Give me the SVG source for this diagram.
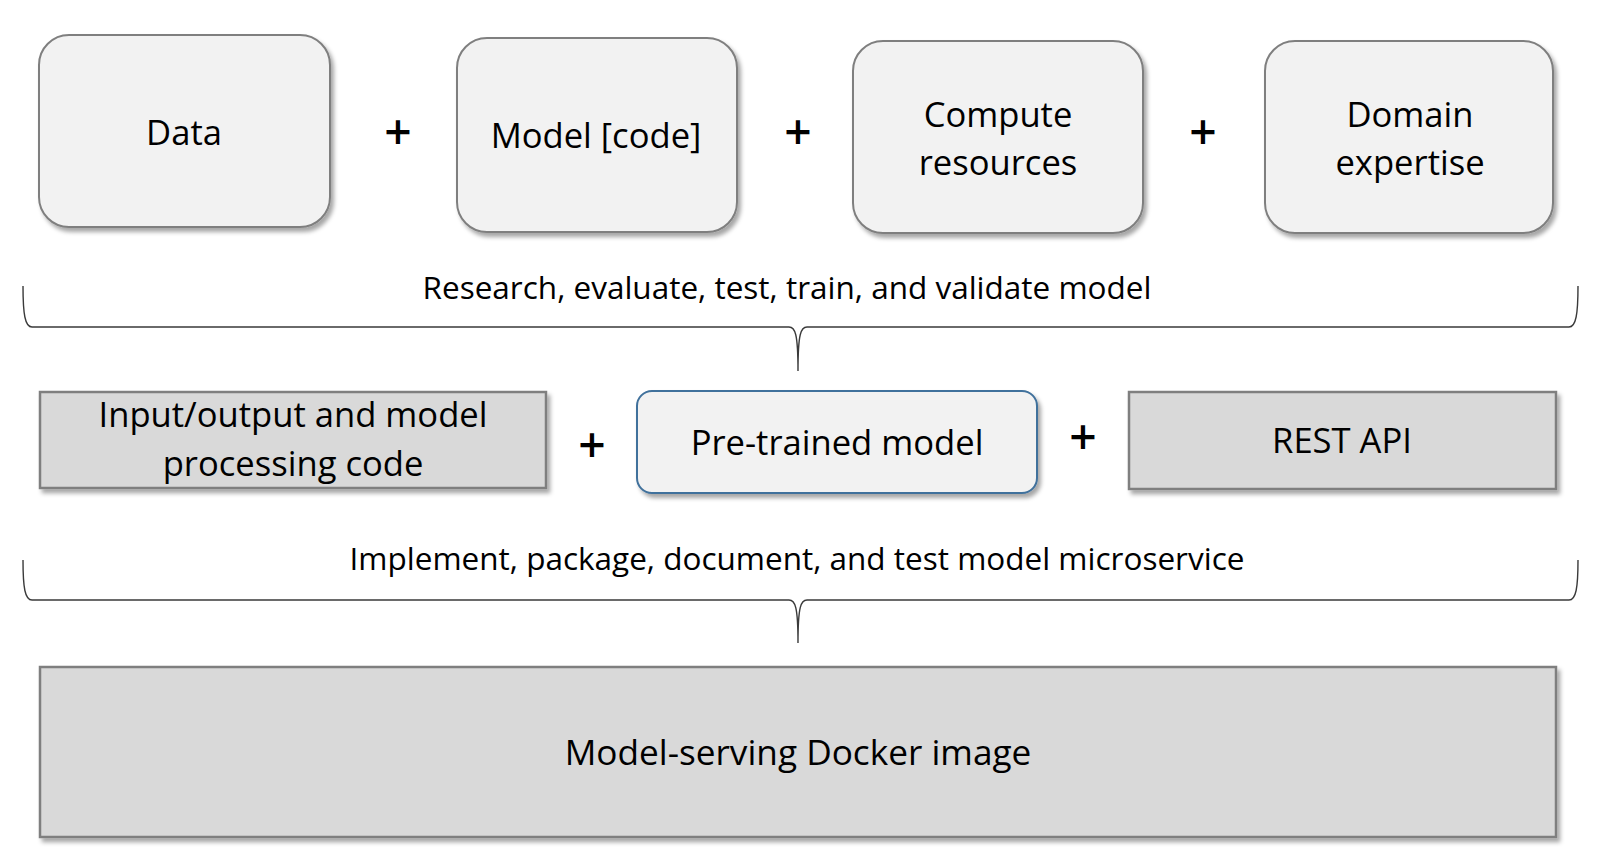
<svg xmlns="http://www.w3.org/2000/svg" width="1599" height="863" viewBox="0 0 1599 863">
  <defs>
    <filter id="shadow" x="-5%" y="-10%" width="115%" height="130%">
      <feDropShadow dx="3" dy="4" stdDeviation="2.2" flood-color="#000" flood-opacity="0.35"/>
    </filter>
  </defs>
  <style>
    .label { font-family: "Open Sans", "Noto Sans", sans-serif; font-size: 34.6px; fill: #000; text-anchor: middle; }
    .brace-label { font-family: "Open Sans", "Noto Sans", sans-serif; font-size: 31.5px; fill: #000; text-anchor: middle; }
    .plus { font-family: "Open Sans", "Noto Sans", sans-serif; font-size: 48px; font-weight: 600; fill: #000; text-anchor: middle; }
    .soft { fill: #f2f2f2; stroke: #7f7f7f; stroke-width: 2; filter: url(#shadow); }
    .grey { fill: #d9d9d9; stroke: #7f7f7f; stroke-width: 2.5; filter: url(#shadow); }
    .blue { fill: #f2f2f2; stroke: #41719c; stroke-width: 2; filter: url(#shadow); }
    .brace { fill: none; stroke: #3a3a3a; stroke-width: 1.4; }
  </style>
  <rect width="1599" height="863" fill="#ffffff"/>

  <g id="node-data">
    <rect class="soft" x="39" y="35" width="291" height="192" rx="30" ry="30"/>
    <text class="label" x="184" y="145">Data</text>
  </g>
  <g id="node-model-code">
    <rect class="soft" x="457" y="38" width="280" height="194" rx="30" ry="30"/>
    <text class="label" x="596" y="148">Model [code]</text>
  </g>
  <g id="node-compute">
    <rect class="soft" x="853" y="41" width="290" height="192" rx="30" ry="30"/>
    <text class="label" x="998" y="127">Compute</text>
    <text class="label" x="998" y="175">resources</text>
  </g>
  <g id="node-domain">
    <rect class="soft" x="1265" y="41" width="288" height="192" rx="30" ry="30"/>
    <text class="label" x="1410" y="127">Domain</text>
    <text class="label" x="1410" y="175">expertise</text>
  </g>

  <g id="plus-signs">
    <text class="plus" x="398" y="149">+</text>
    <text class="plus" x="798" y="149">+</text>
    <text class="plus" x="1203" y="149">+</text>
    <text class="plus" x="592" y="462">+</text>
    <text class="plus" x="1083" y="454">+</text>
  </g>

  <g id="connectors">
    <path class="brace" d="M 23 286 C 23 314, 25 327, 32 327 L 789 327 C 795 327, 798 333, 798 371 C 798 333, 801 327, 807 327 L 1569 327 C 1576 327, 1578 314, 1578 286"/>
    <path class="brace" d="M 23 560 C 23 588, 25 600, 32 600 L 789 600 C 795 600, 798 606, 798 643 C 798 606, 801 600, 807 600 L 1569 600 C 1576 600, 1578 588, 1578 560"/>
  </g>

  <g id="label-research">
    <text class="brace-label" x="787" y="299">Research, evaluate, test, train, and validate model</text>
  </g>

  <g id="node-io-code">
    <rect class="grey" x="40" y="392" width="506" height="96"/>
    <text class="label" x="293" y="427">Input/output and model</text>
    <text class="label" x="293" y="476">processing code</text>
  </g>
  <g id="node-pretrained">
    <rect class="blue" x="637" y="391" width="400" height="102" rx="15" ry="15"/>
    <text class="label" x="837" y="455">Pre-trained model</text>
  </g>
  <g id="node-rest-api">
    <rect class="grey" x="1129" y="392" width="427" height="97"/>
    <text class="label" x="1342" y="453">REST API</text>
  </g>

  <g id="label-implement">
    <text class="brace-label" x="797" y="570">Implement, package, document, and test model microservice</text>
  </g>

  <g id="node-docker">
    <rect class="grey" x="40" y="667" width="1516" height="170"/>
    <text class="label" x="798" y="765" style="font-size:35.2px">Model-serving Docker image</text>
  </g>
</svg>
